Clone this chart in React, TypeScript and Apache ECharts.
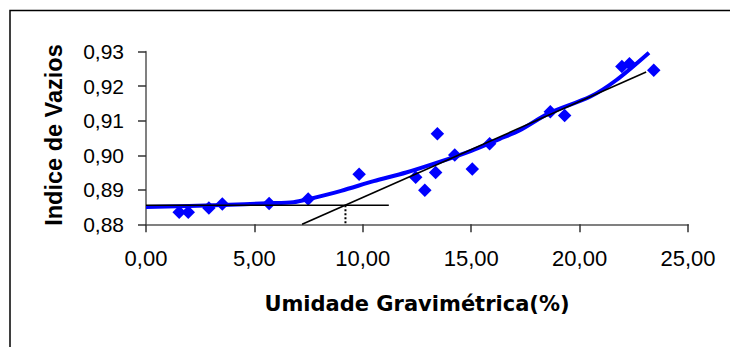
import React, { useEffect, useRef } from "react";
import * as echarts from "echarts";

// Measured points
const umidade = [1.53, 1.95, 2.9, 3.52, 5.68, 7.48, 9.83, 12.44, 12.86, 13.36, 13.44, 14.24, 15.05, 15.85, 18.65, 19.31, 21.95, 22.3, 23.42];
const indice = [0.8835, 0.8835, 0.8847, 0.8859, 0.886, 0.8873, 0.8945, 0.8936, 0.8899, 0.895, 0.9062, 0.9001, 0.896, 0.9033, 0.9126, 0.9115, 0.9257, 0.9265, 0.9246];

// Blue fitted curve
const curveX = [0, 3.5, 5.6, 6.8, 7.5, 9.0, 10.5, 12.0, 13.5, 15.0, 16.3, 17.2, 18.6, 20.5, 21.7, 23.2];
const curveY = [0.885, 0.8856, 0.8861, 0.8864, 0.8873, 0.8897, 0.8925, 0.895, 0.898, 0.9013, 0.9047, 0.9071, 0.9122, 0.917, 0.9218, 0.9297];

// Black construction lines
const horizX = [0, 11.2];
const horizY = [0.8855, 0.8855];
const slopeX = [7.2, 23.07];
const slopeY = [0.88, 0.9241];
const dotX = [9.2, 9.2];
const dotY = [0.8855, 0.88];

const xTicks = { min: 0, max: 25, interval: 5 };
const yTicks = { min: 0.88, max: 0.93, interval: 0.01 };

const xTitle = "Umidade Gravimétrica(%)";
const yTitle = "Indice de Vazios";

const pairs = (xs: number[], ys: number[]) => xs.map((x, i) => [x, ys[i]]);
const comma = (v: number) => v.toFixed(2).replace(".", ",");

export default function App() {
  const ref = useRef<HTMLDivElement>(null);
  useEffect(() => {
    if (!ref.current) return;
    const chart = echarts.init(ref.current, null, { renderer: "svg" });
    const blackLine = (name: string, xs: number[], ys: number[], type: any = "solid", width = 1.6) => ({
      name,
      type: "line",
      data: pairs(xs, ys),
      symbol: "none",
      z: 5,
      lineStyle: { color: "#000000", width, type },
    });
    chart.setOption({
      animation: false,
      backgroundColor: "#ffffff",
      grid: { left: 146, right: 42, top: 51.7, bottom: 122.7, containLabel: false },
      xAxis: {
        type: "value",
        min: xTicks.min,
        max: xTicks.max,
        interval: xTicks.interval,
        axisLine: { show: true, lineStyle: { color: "#808080", width: 2 } },
        axisTick: { show: true, inside: false, length: 8, lineStyle: { color: "#333333", width: 1.5 } },
        axisLabel: { formatter: (v: number) => comma(v), fontFamily: "Liberation Sans", fontSize: 22, color: "#000", margin: 23 },
        splitLine: { show: false },
      },
      yAxis: {
        type: "value",
        min: yTicks.min,
        max: yTicks.max,
        interval: yTicks.interval,
        axisLine: { show: true, onZero: false, lineStyle: { color: "#808080", width: 2 } },
        axisTick: { show: true, inside: false, length: 8, lineStyle: { color: "#333333", width: 1.5 } },
        axisLabel: { formatter: (v: number) => comma(v), fontFamily: "Liberation Sans", fontSize: 21, color: "#000", margin: 22 },
        splitLine: { show: false },
      },
      series: [
        {
          name: "pontos",
          type: "scatter",
          data: pairs(umidade, indice),
          symbol: "diamond",
          symbolSize: 13.5,
          itemStyle: { color: "#0000ff", opacity: 1 },
          z: 2,
        },
        {
          name: "ajuste",
          type: "line",
          data: pairs(curveX, curveY),
          smooth: 0.3,
          symbol: "none",
          lineStyle: { color: "#0000ff", width: 4 },
          z: 3,
        },
        blackLine("horizontal", horizX, horizY),
        blackLine("tangente", slopeX, slopeY),
        blackLine("vertical", dotX, dotY, "dotted", 2),
      ],
      graphic: [
        {
          type: "rect",
          shape: { x: 10, y: 10.5, width: 800, height: 400 },
          style: { fill: "none", stroke: "#000000", lineWidth: 1.5 },
          silent: true,
          z: -1,
        },
        {
          type: "text",
          x: 417,
          y: 304,
          style: {
            text: xTitle,
            font: "bold 21px 'DejaVu Sans'",
            fill: "#000",
            align: "center",
            verticalAlign: "middle",
          },
        },
        {
          type: "text",
          x: 54,
          y: 135,
          rotation: Math.PI / 2,
          style: {
            text: yTitle,
            font: "bold 23.5px 'Liberation Sans'",
            fill: "#000",
            align: "center",
            verticalAlign: "middle",
          },
        },
      ],
    });
    return () => chart.dispose();
  }, []);
  return <div ref={ref} style={{ position: "fixed", left: 0, top: 0, width: 730, height: 347 }} />;
}
